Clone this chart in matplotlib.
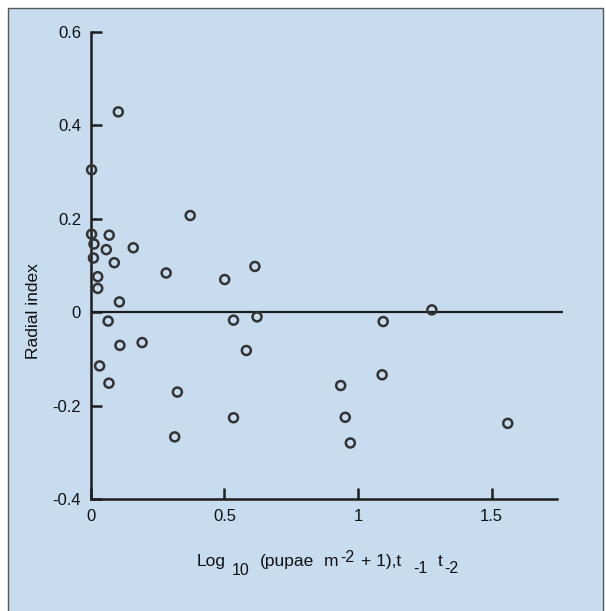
import numpy as np
import matplotlib
matplotlib.use("Agg")
import matplotlib.pyplot as plt
from matplotlib.patches import Rectangle

plt.rcParams['font.family'] = ['Liberation Sans', 'DejaVu Sans']

# log10 pupae density (x) vs radial index (y)
log_pupae = [0.103, 0.003, 0.372, 0.003, 0.069, 0.012, 0.159, 0.058, 0.010,
             0.088, 0.614, 0.282, 0.026, 0.501, 0.026, 0.107, 1.276, 0.065,
             0.534, 0.622, 1.094, 0.109, 0.192, 0.582, 0.033, 0.068, 1.090,
             0.935, 0.324, 0.534, 0.952, 1.560, 0.314, 0.971]
radial_index = [0.429, 0.305, 0.207, 0.167, 0.165, 0.146, 0.138, 0.134, 0.116,
                0.106, 0.098, 0.084, 0.076, 0.070, 0.051, 0.022, 0.005, -0.019,
                -0.017, -0.010, -0.020, -0.071, -0.065, -0.082, -0.115, -0.152, -0.134,
                -0.157, -0.171, -0.226, -0.225, -0.238, -0.267, -0.280]

y_ticks = [0.6, 0.4, 0.2, 0, -0.2, -0.4]
y_tick_labels = ["0.6", "0.4", "0.2", "0", "-0.2", "-0.4"]
x_ticks = [0, 0.5, 1, 1.5]
x_tick_labels = ["0", "0.5", "1", "1.5"]

# x label pieces: (text, left px, baseline px, size)
xlabel_parts = [("Log", 197, 566, 12.5), ("10", 232, 575, 11.5),
                ("(pupae", 260, 566, 12.5), ("m", 324, 566, 12.5),
                ("-2", 340, 562, 11.5), ("+ 1),t", 361, 566, 12.5),
                ("-1", 413, 573, 11.5), ("t", 438, 566, 12.5), ("-2", 444, 573, 11.5)]

bg = '#c7dcee'
ink = '#1e1e1e'
W, H = 606, 611

fig = plt.figure(figsize=(W / 100, H / 100), dpi=100)
fig.patch.set_facecolor('white')
frame = Rectangle((8 / W, -0.01), 595 / W, 1 - 8 / H + 0.01,
                  transform=fig.transFigure, facecolor=bg,
                  edgecolor='#555555', linewidth=1.0, zorder=-5)
fig.patches.append(frame)

ax = fig.add_axes([0.1498, 0.1833, 0.7785, 0.7643])
ax.set_facecolor('none')
ax.set_xlim(0, 1.765)
ax.set_ylim(-0.4, 0.6)

for s in ['top', 'right']:
    ax.spines[s].set_visible(False)
for s in ['left', 'bottom']:
    ax.spines[s].set_linewidth(1.8)
    ax.spines[s].set_color(ink)
ax.spines['bottom'].set_bounds(0, 1.746)

ax.axhline(0, color=ink, linewidth=1.6, zorder=1)

ax.scatter(log_pupae, radial_index, s=42, facecolors='none',
           edgecolors='#333333', linewidths=1.8, zorder=3, clip_on=False)

ax.set_yticks(y_ticks)
ax.set_yticklabels(y_tick_labels)
ax.set_xticks(x_ticks)
ax.set_xticklabels(x_tick_labels)
ax.tick_params(axis='both', direction='in', length=8, width=1.8, color=ink,
               labelsize=12, labelcolor='#111111')
ax.tick_params(axis='y', pad=7)
ax.tick_params(axis='x', pad=7)

fig.text(33 / W, 1 - 311 / H, 'Radial index', rotation=90, ha='center',
         va='center', fontsize=12.5, color='#111111')
for txt, left, base, size in xlabel_parts:
    fig.text(left / W, 1 - base / H, txt, ha='left', va='baseline',
             fontsize=size, color='#111111')

fig.savefig('out.png', dpi=100, facecolor=fig.get_facecolor())
